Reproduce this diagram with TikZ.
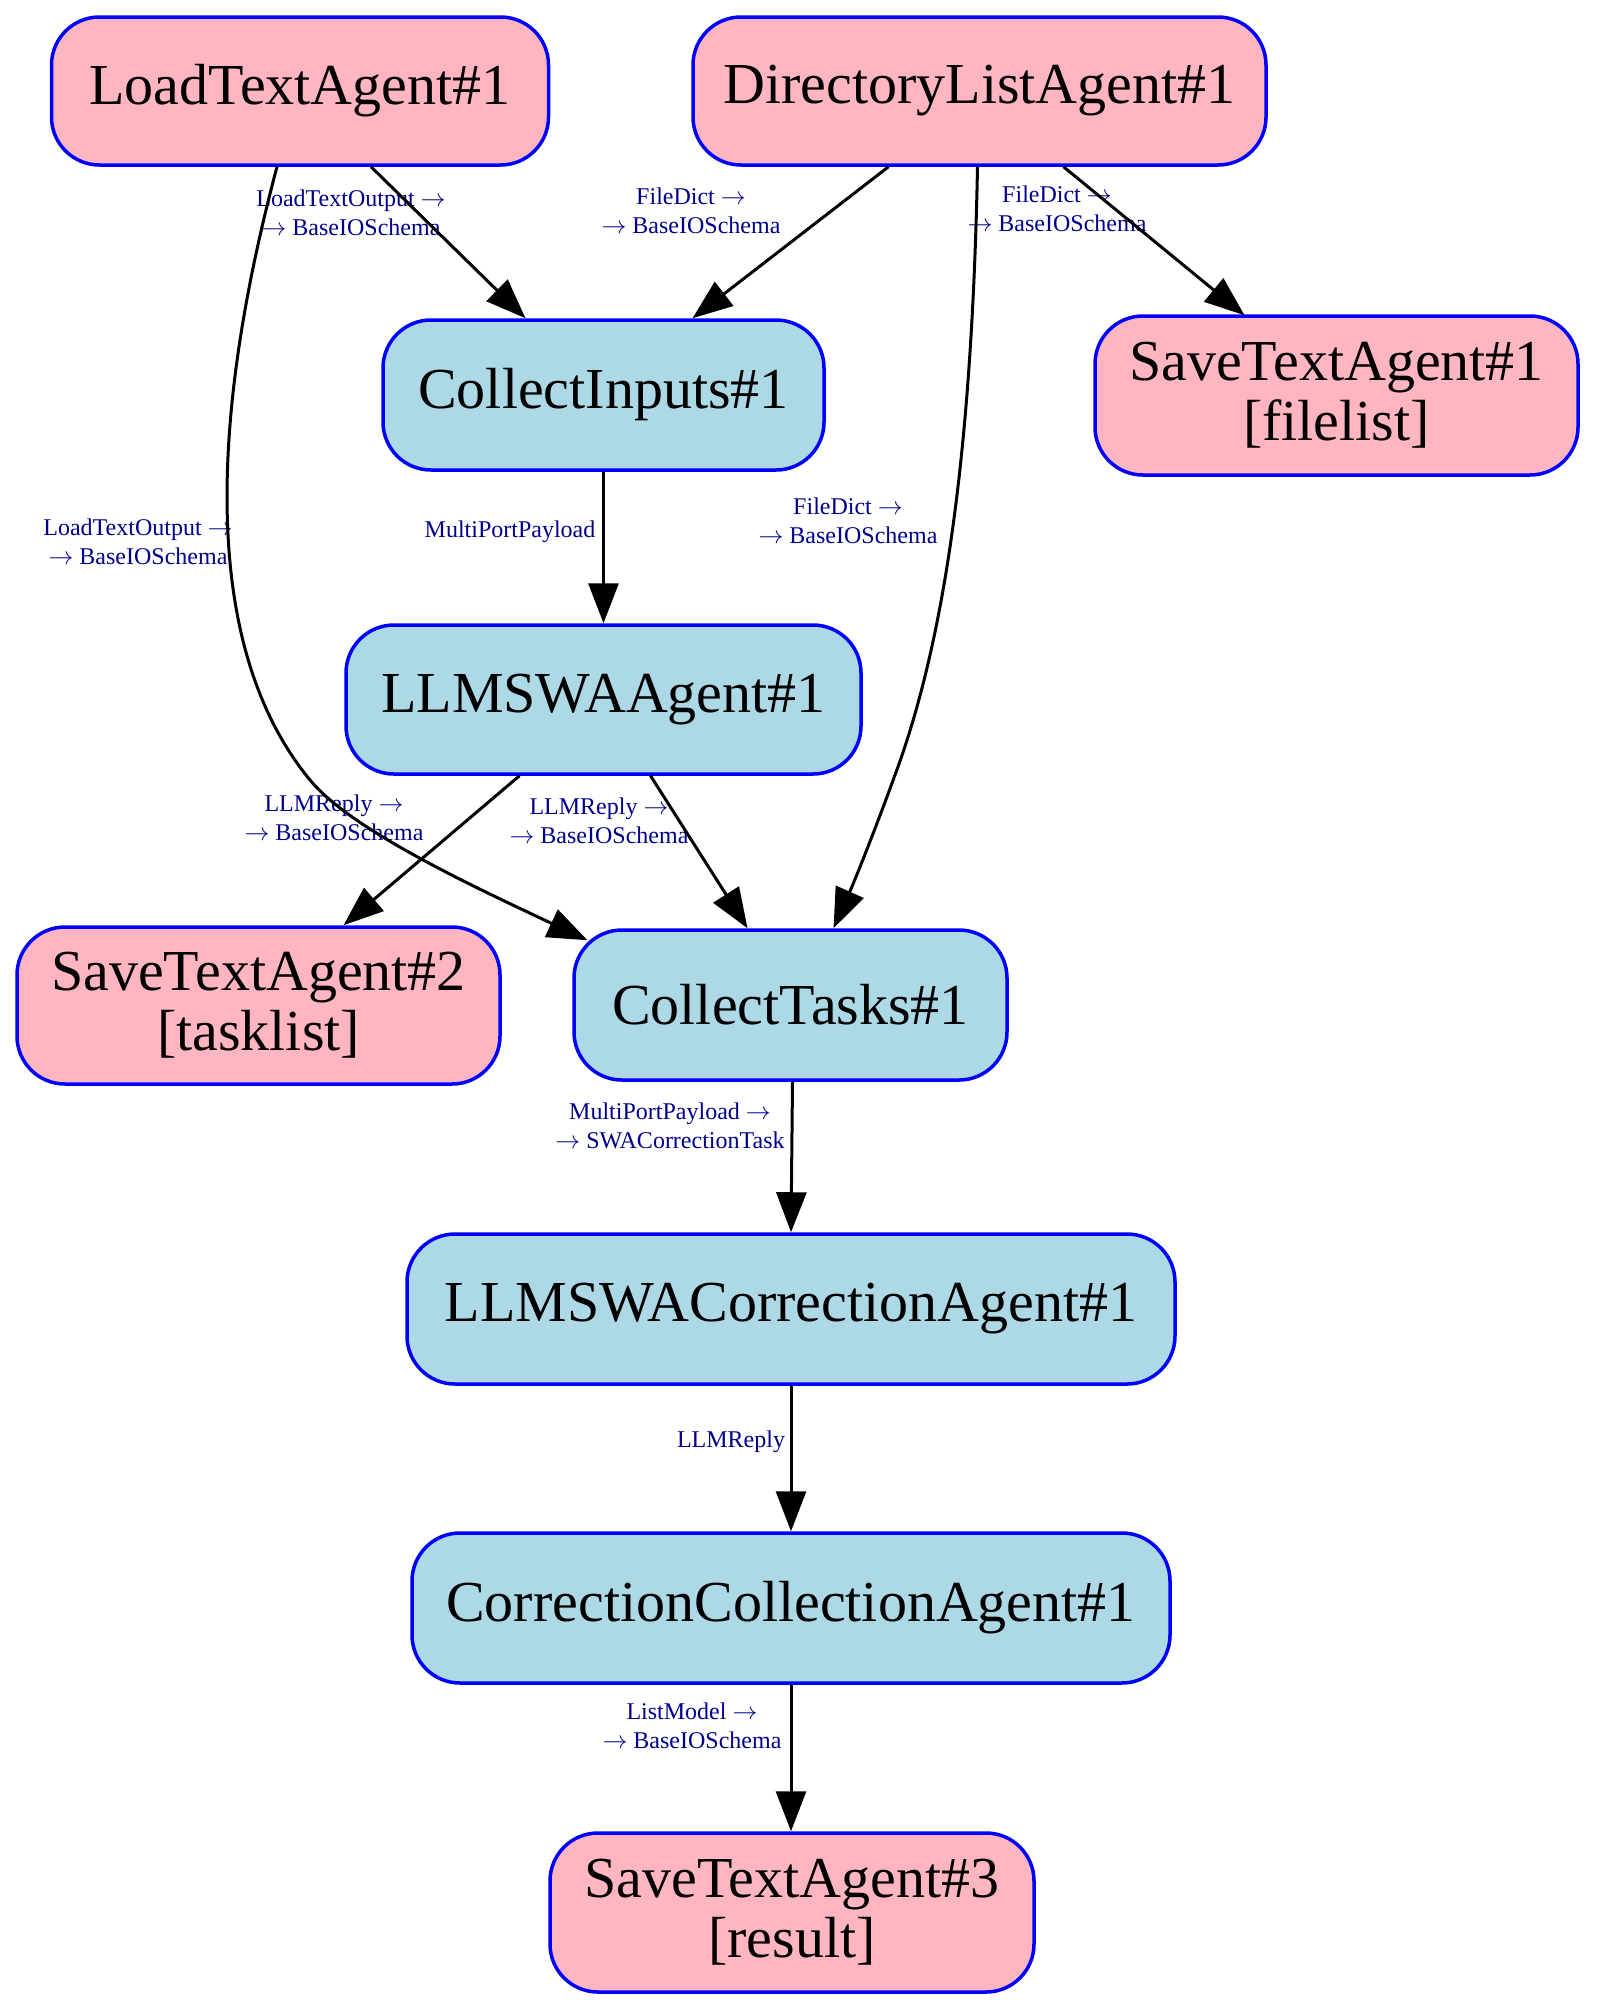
\documentclass[tikz,border=0pt]{standalone}
\usepackage{fontspec}
\setmainfont{Liberation Serif}
\usetikzlibrary{arrows.meta}
\definecolor{pinkfill}{HTML}{FFB6C1}
\definecolor{bluefill}{HTML}{ADD8E6}
\definecolor{lblcol}{HTML}{00008B}
\newcommand{\ra}{$\rightarrow$}
\begin{document}
\begin{tikzpicture}[x=1pt,y=-1pt,
  agent/.style={draw=blue, line width=3.5pt, rounded corners=48pt, inner sep=0pt, align=center, font=\fontsize{58}{60}\selectfont, text=black},
  pinkagent/.style={agent, fill=pinkfill},
  blueagent/.style={agent, fill=bluefill},
  conn/.style={line width=3pt, -{Triangle[length=40pt,width=30pt]}},
  elabel/.style={text=lblcol, align=center, font=\fontsize{24}{29}\selectfont, inner sep=0pt}]
\useasboundingbox[fill=white] (0,0) rectangle (1596,2008);

% nodes
\node[pinkagent, minimum width=497pt, minimum height=148pt] (lta) at (300,91) {LoadTextAgent\#1};
\node[pinkagent, minimum width=573pt, minimum height=148pt] (dla) at (979.5,91) {DirectoryListAgent\#1};
\node[blueagent, minimum width=441pt, minimum height=150pt] (ci) at (603.5,395) {CollectInputs\#1};
\node[pinkagent, minimum width=483pt, minimum height=159pt] (st1) at (1336.5,395.5) {SaveTextAgent\#1\\{}[filelist]};
\node[blueagent, minimum width=515pt, minimum height=149pt] (llm) at (603.5,699.5) {LLMSWAAgent\#1};
\node[pinkagent, minimum width=483pt, minimum height=157pt] (st2) at (258.5,1005.5) {SaveTextAgent\#2\\{}[tasklist]};
\node[blueagent, minimum width=433pt, minimum height=150pt] (ct) at (790.5,1005) {CollectTasks\#1};
\node[blueagent, minimum width=768pt, minimum height=150pt] (lca) at (791,1309) {LLMSWACorrectionAgent\#1};
\node[blueagent, minimum width=758pt, minimum height=150pt] (cca) at (791,1608) {CorrectionCollectionAgent\#1};
\node[pinkagent, minimum width=484pt, minimum height=159pt] (st3) at (792,1912.5) {SaveTextAgent\#3\\{}[result]};

% edge labels
\node[elabel] (l1) at (351,213) {LoadTextOutput \ra\\\ra\ BaseIOSchema};
\node[elabel] (l2) at (691,211) {FileDict \ra\\\ra\ BaseIOSchema};
\node[elabel] (l3) at (1057,209) {FileDict \ra\\\ra\ BaseIOSchema};
\node[elabel] (l4) at (848,521) {FileDict \ra\\\ra\ BaseIOSchema};
\node[elabel] (l5) at (138,542) {LoadTextOutput \ra\\\ra\ BaseIOSchema};
\node[elabel] (l6) at (510,532) {MultiPortPayload};
\node[elabel] (l7) at (334,818) {LLMReply \ra\\\ra\ BaseIOSchema};
\node[elabel] (l8) at (599,821) {LLMReply \ra\\\ra\ BaseIOSchema};
\node[elabel] (l9) at (670,1126) {MultiPortPayload \ra\\\ra\ SWACorrectionTask};
\node[elabel] (l10) at (731,1442) {LLMReply};
\node[elabel] (l11) at (692,1726) {ListModel \ra\\\ra\ BaseIOSchema};

% edges
\draw[conn] ([xshift=71pt]lta.south) -- ([xshift=-78pt]ci.north);
\draw[conn] ([xshift=-91pt]dla.south) -- ([xshift=89pt]ci.north);
\draw[conn] ([xshift=84pt]dla.south) -- ([xshift=-92pt,yshift=-1pt]st1.north);
\draw[conn] ([xshift=-2pt]dla.south) .. controls (972,450) and (945,640) .. (895,775) .. controls (875,830) and (855,880) .. ([xshift=43pt]ct.north);
\draw[conn] ([xshift=-23pt]lta.south) .. controls (215,400) and (195,640) .. (310,780) .. controls (350,829) and (470,885) .. ([xshift=-203pt,yshift=-12pt]ct.north);
\draw[conn] (ci.south) -- (llm.north);
\draw[conn] ([xshift=-84pt]llm.south) -- ([xshift=85pt]st2.north);
\draw[conn] ([xshift=47pt]llm.south) -- ([xshift=-43pt]ct.north);
\draw[conn] ([xshift=2pt]ct.south) -- (lca.north);
\draw[conn] (lca.south) -- (cca.north);
\draw[conn] (cca.south) -- ([xshift=-1pt]st3.north);
\end{tikzpicture}
\end{document}
